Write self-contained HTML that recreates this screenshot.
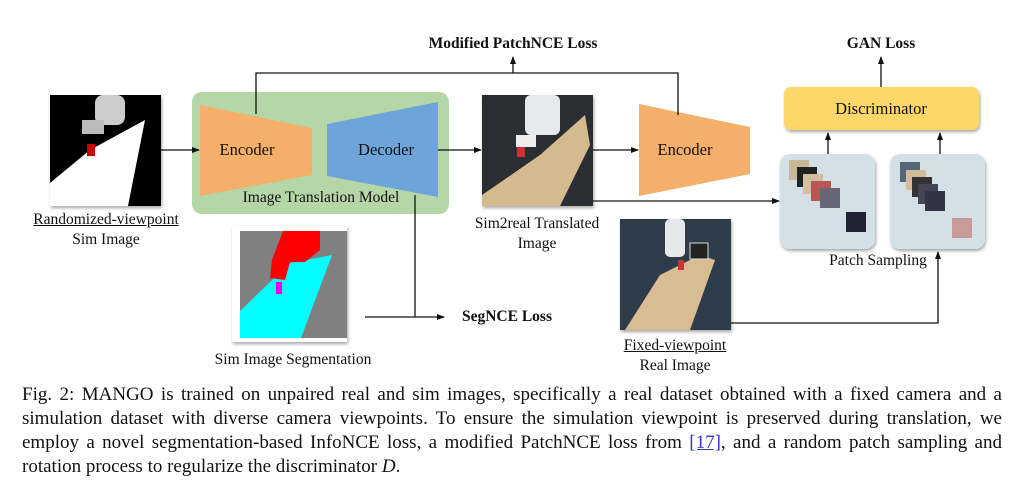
<!DOCTYPE html>
<html><head><meta charset="utf-8"><style>
body{margin:0;width:1024px;height:483px;background:#fff;overflow:hidden;position:relative;font-family:"Liberation Serif",serif;color:#111}
.t{position:absolute;white-space:nowrap;transform:translate(-50%,-50%);font-size:15.5px}
.l{position:absolute;left:22px;width:980px;font-size:19px;line-height:24px;height:24px;white-space:nowrap;text-align:justify;text-align-last:justify}
.l4{text-align-last:left}
</style></head><body>
<svg width="1024" height="483" style="position:absolute;left:0;top:0">
<defs>
<marker id="a" markerWidth="8" markerHeight="8" refX="7" refY="4" orient="auto" markerUnits="userSpaceOnUse"><path d="M0,1 L8,4 L0,7z" fill="#111"/></marker>
<filter id="s"><feDropShadow dx="1" dy="2" stdDeviation="1.5" flood-opacity="0.35"/></filter>
</defs>
<!-- sim image -->
<g filter="url(#s)"><rect x="50" y="95" width="111" height="111" fill="#000"/></g>
<polygon points="50,183 90,150 145,120 128,206 50,206" fill="#fff"/>
<rect x="95" y="95" width="30" height="30" fill="#ccc" rx="8"/>
<rect x="82" y="120" width="22" height="14" fill="#bbb"/>
<rect x="87" y="144" width="8" height="12" fill="#c00"/>
<!-- green box -->
<rect x="192" y="92" width="257" height="122" rx="10" fill="#b5d6a7"/>
<polygon points="200,105 312,128 312,175 200,196" fill="#f4b06b"/>
<polygon points="327,124 438,102 438,197 327,176" fill="#6ea4d9"/>
<!-- segmentation -->
<g filter="url(#s)"><rect x="232" y="226" width="115" height="116" fill="#fff"/></g>
<rect x="240" y="231" width="107" height="107" fill="#808080"/>
<polygon points="240,311 290,263 332,255 301,338 240,338" fill="#00ffff"/>
<path d="M283,231 L320,231 L320,250 L305,262 L290,262 L285,280 L270,278 L272,260 Z" fill="#f00"/>
<rect x="276" y="282" width="6" height="12" fill="#e0e"/>
<!-- sim2real -->
<g filter="url(#s)"><rect x="482" y="95" width="111" height="111" fill="#2a2d33"/></g>
<polygon points="482,195 540,155 585,115 590,145 560,206 482,206" fill="#d5b98f"/>
<rect x="525" y="95" width="35" height="40" fill="#e6eaee" rx="6"/>
<rect x="516" y="135" width="20" height="12" fill="#eee"/>
<rect x="517" y="147" width="8" height="10" fill="#c33"/>
<!-- encoder2 -->
<polygon points="639,104 750,127 750,174 639,196" fill="#f4b06b"/>
<!-- real image -->
<g filter="url(#s)"><rect x="620" y="219" width="111" height="111" fill="#2f3a48"/></g>
<polygon points="625,330 660,275 700,255 715,260 690,330" fill="#d9bd92"/>
<rect x="665" y="219" width="20" height="38" fill="#e6e8ec" rx="5"/>
<rect x="690" y="243" width="18" height="16" fill="#222" stroke="#ddd"/>
<rect x="678" y="260" width="6" height="10" fill="#c33"/>
<!-- discriminator -->
<g filter="url(#s)"><rect x="784" y="87" width="195" height="43" rx="7" fill="#fdd867"/></g>
<g filter="url(#s)"><rect x="780" y="154" width="95" height="95" rx="10" fill="#d3e1e6"/>
<rect x="890" y="154" width="95" height="95" rx="10" fill="#d3e1e6"/></g>
<g><rect x="789" y="160" width="20" height="20" fill="#c9b79a"/><rect x="797" y="167" width="20" height="20" fill="#222"/><rect x="803" y="174" width="20" height="20" fill="#d2bf9f"/><rect x="811" y="181" width="20" height="20" fill="#b55"/><rect x="820" y="188" width="20" height="20" fill="#667"/><rect x="846" y="212" width="20" height="20" fill="#223"/>
<rect x="900" y="162" width="20" height="20" fill="#567"/><rect x="906" y="170" width="20" height="20" fill="#d1bd9c"/><rect x="912" y="177" width="20" height="20" fill="#333"/><rect x="918" y="184" width="20" height="20" fill="#445"/><rect x="925" y="191" width="20" height="20" fill="#334"/><rect x="952" y="218" width="20" height="20" fill="#c99"/></g>
<!-- connectors -->
<g stroke="#111" stroke-width="1.3" fill="none">
<path d="M161,150 H199" marker-end="url(#a)"/>
<path d="M256,114 V73 H678 V115"/>
<path d="M513,73 V57" marker-end="url(#a)"/>
<path d="M438,150 H481" marker-end="url(#a)"/>
<path d="M415,195 V317"/>
<path d="M365,317 H444" marker-end="url(#a)"/>
<path d="M593,150 H638" marker-end="url(#a)"/>
<path d="M593,201 H779" marker-end="url(#a)"/>
<path d="M881,87 V57" marker-end="url(#a)"/>
<path d="M828,154 V133" marker-end="url(#a)"/>
<path d="M940,154 V133" marker-end="url(#a)"/>
<path d="M731,323 H938 V252" marker-end="url(#a)"/>
</g>
</svg>
<div class="t" style="left:513px;top:44px;font-weight:bold">Modified PatchNCE Loss</div>
<div class="t" style="left:881px;top:44px;font-weight:bold">GAN Loss</div>
<div class="t" style="left:247px;top:150px;font-size:16.5px">Encoder</div>
<div class="t" style="left:386px;top:150px;font-size:16.5px">Decoder</div>
<div class="t" style="left:321px;top:198px">Image Translation Model</div>
<div class="t" style="left:106px;top:220px;text-decoration:underline">Randomized-viewpoint</div>
<div class="t" style="left:106px;top:240px">Sim Image</div>
<div class="t" style="left:537px;top:224px">Sim2real Translated</div>
<div class="t" style="left:537px;top:244px">Image</div>
<div class="t" style="left:685px;top:150px;font-size:16.5px">Encoder</div>
<div class="t" style="left:881px;top:109px;font-size:16.5px">Discriminator</div>
<div class="t" style="left:878px;top:261px">Patch Sampling</div>
<div class="t" style="left:507px;top:317px;font-weight:bold">SegNCE Loss</div>
<div class="t" style="left:293px;top:360px">Sim Image Segmentation</div>
<div class="t" style="left:675px;top:346px;text-decoration:underline">Fixed-viewpoint</div>
<div class="t" style="left:675px;top:366px">Real Image</div>
<div class="l" style="top:383px">Fig. 2: MANGO is trained on unpaired real and sim images, specifically a real dataset obtained with a fixed camera and a</div>
<div class="l" style="top:407px">simulation dataset with diverse camera viewpoints. To ensure the simulation viewpoint is preserved during translation, we</div>
<div class="l" style="top:431px">employ a novel segmentation-based InfoNCE loss, a modified PatchNCE loss from <span style="color:#33c;text-decoration:underline">[17]</span>, and a random patch sampling and</div>
<div class="l l4" style="top:455px">rotation process to regularize the discriminator <i>D</i>.</div>
</body></html>
